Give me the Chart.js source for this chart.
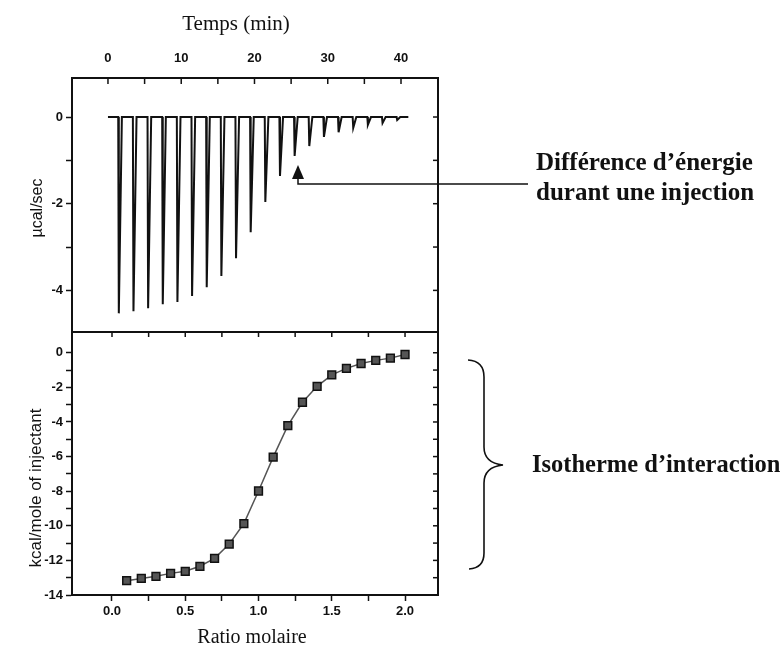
<!DOCTYPE html>
<html>
<head>
<meta charset="utf-8">
<script src="https://cdn.jsdelivr.net/npm/chart.js@4.4.1/dist/chart.umd.min.js"></script>
<style>
  body { margin: 0; background: #fff; }
  #wrap { position: relative; width: 782px; height: 649px; }
  #chart { position: absolute; left: 0; top: 0; }
  .lbl { position: absolute; color: #111; white-space: nowrap; }
  .serif { font-family: "Liberation Serif", "DejaVu Serif", serif; }
  .note { font-family: "Liberation Serif", serif; font-weight: bold; font-size: 25px; }
  .ytitle { font-family: "Liberation Sans", Arial, sans-serif; transform: translate(-50%, -50%) rotate(-90deg); }
  svg { position: absolute; left: 0; top: 0; }
</style>
</head>
<body>
<div id="wrap">
  <canvas id="chart" width="782" height="649"></canvas>
  <svg width="782" height="649">
    <polygon points="298,165 292,179 304,179" fill="#111" />
    <polyline points="298,179 298,184 528,184" fill="none" stroke="#111" stroke-width="1.5" />
    <path d="M468,360 Q484,361 484,377 L484,447 Q484,463 503,465 Q484,467 484,483 L484,553 Q484,568 469,569"
          fill="none" stroke="#111" stroke-width="1.6" />
  </svg>
  <div class="lbl serif" style="left:236px; top:23px; font-size:21px; transform:translate(-50%,-50%)">Temps (min)</div>
  <div class="lbl serif" style="left:252px; top:636px; font-size:20px; transform:translate(-50%,-50%)">Ratio molaire</div>
  <div class="lbl ytitle" style="left:37px; top:208px; font-size:16px">µcal/sec</div>
  <div class="lbl ytitle" style="left:36px; top:488px; font-size:17px">kcal/mole of injectant</div>
  <div class="lbl note" style="left:536px; top:148px">Différence d’énergie</div>
  <div class="lbl note" style="left:536px; top:178px">durant une injection</div>
  <div class="lbl note" style="left:532px; top:450px; font-size:24.5px">Isotherme d’interaction</div>
</div>
<script>
// upper panel: raw heat rate (µcal/sec), one spike per injection
const injTimes = [1.4, 3.4, 5.4, 7.4, 9.4, 11.4, 13.4, 15.4, 17.4, 19.4,
                  21.4, 23.4, 25.4, 27.4, 29.4, 31.4, 33.4, 35.4, 37.4, 39.4];
const injPeaks = [-4.53, -4.48, -4.41, -4.32, -4.27, -4.13, -3.93, -3.67, -3.26, -2.66,
                  -1.96, -1.36, -0.90, -0.67, -0.46, -0.35, -0.25, -0.18, -0.14, -0.07];
const baseStart = 0;
const baseEnd = 41;

// lower panel: integrated heats vs molar ratio
const ratio = [0.1, 0.2, 0.3, 0.4, 0.5, 0.6, 0.7, 0.8, 0.9, 1.0,
               1.1, 1.2, 1.3, 1.4, 1.5, 1.6, 1.7, 1.8, 1.9, 2.0];
const heat = [-13.17, -13.04, -12.92, -12.75, -12.63, -12.34, -11.88, -11.06, -9.87, -7.99,
              -6.03, -4.21, -2.86, -1.94, -1.28, -0.90, -0.62, -0.44, -0.31, -0.10];

// ticks
const timeTicks = [0, 5, 10, 15, 20, 25, 30, 35, 40];
const timeLabels = [0, 10, 20, 30, 40];
const rateTicks = [0, -1, -2, -3, -4];
const rateLabels = [0, -2, -4];
const ratioTicks = [0, 0.25, 0.5, 0.75, 1.0, 1.25, 1.5, 1.75, 2.0];
const ratioLabels = [0, 0.5, 1.0, 1.5, 2.0];
const heatTicks = [0, -1, -2, -3, -4, -5, -6, -7, -8, -9, -10, -11, -12, -13, -14];
const heatLabels = [0, -2, -4, -6, -8, -10, -12, -14];

const buildTrace = () => {
  const pts = [{ x: baseStart, y: 0 }];
  injTimes.forEach((t, i) => {
    pts.push({ x: t, y: 0 });
    pts.push({ x: t + 0.08, y: injPeaks[i] });
    pts.push({ x: t + 0.5, y: 0 });
  });
  pts.push({ x: baseEnd, y: 0 });
  return pts;
};

const tickFont = { family: "Liberation Sans", size: 13, weight: "bold" };
const setTicks = (list) => (axis) => { axis.ticks = list.map((v) => ({ value: v })); };

const framePlugin = {
  id: "frame",
  afterDraw(chart) {
    const { ctx, chartArea: a, scales } = chart;
    const line = (x1, y1, x2, y2) => { ctx.beginPath(); ctx.moveTo(x1, y1); ctx.lineTo(x2, y2); ctx.stroke(); };
    ctx.save();
    ctx.strokeStyle = "#111";
    ctx.lineWidth = 2;
    ctx.strokeRect(a.left, a.top, a.right - a.left, a.bottom - a.top);
    line(a.left, scales.yt.bottom, a.right, scales.yt.bottom);
    ctx.lineWidth = 1.5;
    scales.xt.ticks.forEach((t) => { const x = scales.xt.getPixelForValue(t.value); line(x, a.top, x, a.top + 6); });
    scales.xb.ticks.forEach((t) => { const x = scales.xb.getPixelForValue(t.value); line(x, scales.yb.top, x, scales.yb.top + 5); });
    scales.yt.ticks.forEach((t) => { const y = scales.yt.getPixelForValue(t.value); line(a.right, y, a.right - 5, y); });
    scales.yb.ticks.forEach((t) => { const y = scales.yb.getPixelForValue(t.value); line(a.right, y, a.right - 5, y); });
    ctx.restore();
  },
};

new Chart(document.getElementById("chart"), {
  type: "line",
  data: {
    datasets: [
      {
        label: "µcal/sec",
        data: buildTrace(),
        xAxisID: "xt",
        yAxisID: "yt",
        borderColor: "#111",
        borderWidth: 2,
        pointRadius: 0,
      },
      {
        label: "kcal/mole",
        data: ratio.map((r, i) => ({ x: r, y: heat[i] })),
        xAxisID: "xb",
        yAxisID: "yb",
        borderColor: "#555",
        borderWidth: 1.5,
        pointStyle: "rect",
        pointRadius: 5.5,
        pointBackgroundColor: "#555",
        pointBorderColor: "#111",
        pointBorderWidth: 1.5,
      },
    ],
  },
  options: {
    responsive: false,
    animation: false,
    layout: { padding: { top: 30, left: 0, right: 344, bottom: 20 } },
    plugins: { legend: { display: false }, tooltip: { enabled: false } },
    scales: {
      xt: {
        type: "linear",
        position: "top",
        min: -4.91,
        max: 45.05,
        afterBuildTicks: setTicks(timeTicks),
        afterFit: (s) => { s.height = 48; },
        grid: { display: true, drawOnChartArea: false, drawTicks: false },
        border: { color: "#111", width: 2 },
        ticks: { autoSkip: false, maxRotation: 0, padding: 12, color: "#111", font: tickFont,
                 callback: (v) => (timeLabels.includes(v) ? v : "") },
      },
      xb: {
        type: "linear",
        position: "bottom",
        min: -0.273,
        max: 2.225,
        afterBuildTicks: setTicks(ratioTicks),
        afterFit: (s) => { s.height = 34; },
        grid: { display: true, drawOnChartArea: false, tickLength: 6, tickWidth: 1.5, tickColor: "#111" },
        border: { color: "#111", width: 2 },
        ticks: { autoSkip: false, maxRotation: 0, padding: 3, color: "#111", font: tickFont,
                 callback: (v) => (ratioLabels.includes(v) ? v.toFixed(1) : "") },
      },
      yb: {
        type: "linear",
        position: "left",
        stack: "panels",
        stackWeight: 263,
        min: -14,
        max: 1.2,
        afterBuildTicks: setTicks(heatTicks),
        afterFit: (s) => { s.width = 72; },
        grid: { display: true, drawOnChartArea: false, tickLength: 6, tickWidth: 1.5, tickColor: "#111" },
        border: { color: "#111", width: 2 },
        ticks: { autoSkip: false, padding: 3, color: "#111", font: tickFont,
                 callback: (v) => (heatLabels.includes(v) ? v : "") },
      },
      yt: {
        type: "linear",
        position: "left",
        stack: "panels",
        stackWeight: 254,
        min: -4.96,
        max: 0.9,
        afterBuildTicks: setTicks(rateTicks),
        afterFit: (s) => { s.width = 72; },
        grid: { display: true, drawOnChartArea: false, tickLength: 6, tickWidth: 1.5, tickColor: "#111" },
        border: { color: "#111", width: 2 },
        ticks: { autoSkip: false, padding: 3, color: "#111", font: tickFont,
                 callback: (v) => (rateLabels.includes(v) ? v : "") },
      },
    },
  },
  plugins: [framePlugin],
});
</script>
</body>
</html>
